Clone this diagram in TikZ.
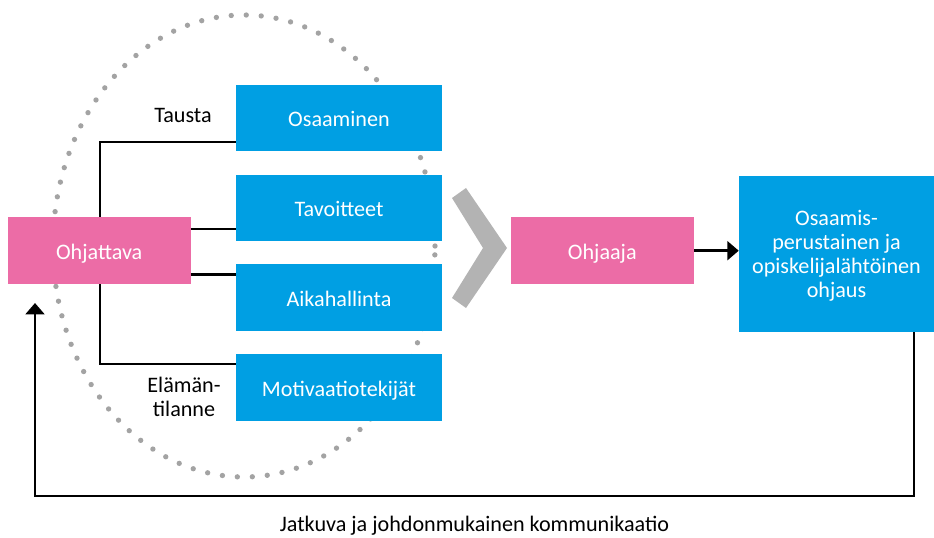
\documentclass[tikz,border=0pt]{standalone}
\usepackage{fontspec}
\setmainfont{Carlito}
\usetikzlibrary{arrows.meta}
\definecolor{boxpink}{HTML}{EC6CA6}
\definecolor{boxblue}{HTML}{009FE3}
\definecolor{chevgray}{HTML}{B3B3B3}
\definecolor{dotgray}{HTML}{A3A3A3}
\begin{document}
\begin{tikzpicture}[x=0.75pt,y=-0.75pt,
  every node/.style={font=\fontsize{16.6}{18}\selectfont},
  flatbox/.style={inner sep=0pt, text=white, text height=14.8pt, text depth=2pt},
  pinkbox/.style={flatbox, fill=boxpink, minimum width=137.5pt, minimum height=50pt},
  bluebox/.style={flatbox, fill=boxblue, minimum width=154.5pt, minimum height=49.8pt},
  conn/.style={line width=2.1pt},
  tip/.style={-{Triangle[length=8.5pt,width=14pt]}},
  dots/.style={dotgray, line width=4pt, line cap=round, dash pattern=on 0pt off 11.25pt}
]
\useasboundingbox (0,0) rectangle (934,538);

% dotted ellipse behind the boxes
\draw[dots] (244,246) ellipse [x radius=143.25pt, y radius=173.25pt];

% left side
\node[pinkbox] (ohj) at (99.2,250.5) {Ohjattava};
\node[bluebox] (osa) at (339,118) {Osaaminen};
\node[bluebox] (tav) at (339,208) {Tavoitteet};
\node[bluebox] (aik) at (339,297.5) {Aikahallinta};
\node[bluebox] (mot) at (339,387.5) {Motivaatiotekijät};

\node[anchor=base] (tausta) at (183,123) {Tausta};
\node[align=center, inner sep=0pt] (elama) at (184,397) {Elämän-\\tilanne};

% connectors from Ohjattava
\draw[conn] ([xshift=0.6pt]ohj.north) |- ([yshift=-18pt]osa.west);
\draw[conn] ([xshift=0.6pt]ohj.south) |- ([yshift=17.6pt]mot.west);
\coordinate (t1) at ([yshift=16.1pt]ohj.east);
\coordinate (a1) at ([yshift=-18pt]ohj.east);
\draw[conn] (t1) -- (t1 -| tav.west);
\draw[conn] (a1) -- (a1 -| aik.west);

% chevron
\fill[chevgray] (452,198) -- (466,188) -- (507,248) -- (466,308) -- (452,298) -- (483,248) -- cycle;

% right side
\node[pinkbox] (ohjaaja) at (602.3,250.7) {Ohjaaja};
\node[fill=boxblue, text=white, inner sep=0pt, minimum width=146.25pt, minimum height=117pt,
      align=center, text depth=0pt] (ohjaus) at (836.5,254)
      {Osaamis-\\perustainen ja\\opiskelijalähtöinen\\ohjaus};
\draw[conn,tip] (ohjaaja.east) -- (ohjaaja.east -| ohjaus.west);

% feedback loop
\coordinate (fbcorner) at (35,496);
\coordinate (fbend) at (35,303);
\draw[conn,tip] ([xshift=58.1pt]ohjaus.south) |- (fbcorner) -- (fbend);
\node[anchor=base] (komm) at (474.5,531) {Jatkuva ja johdonmukainen kommunikaatio};
\end{tikzpicture}
\end{document}
